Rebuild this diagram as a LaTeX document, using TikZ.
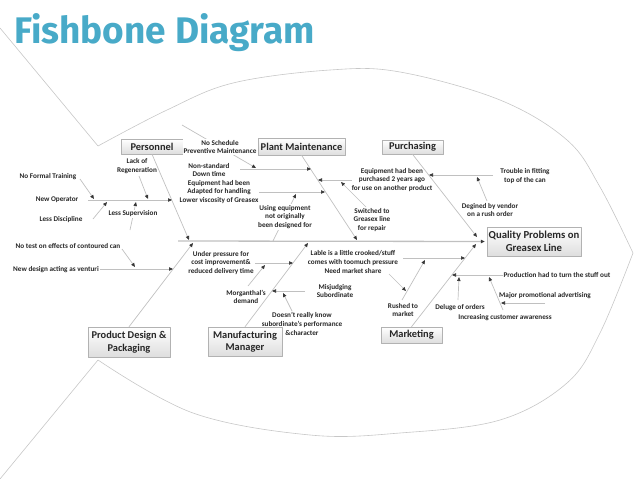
\documentclass[tikz,border=0pt]{standalone}
\usepackage{fontspec}
\setmainfont{Carlito}
\newfontfamily\titlefont{Fira Sans}
\usetikzlibrary{arrows.meta,shadows}

\definecolor{fishblue}{RGB}{72,170,200}
\definecolor{bonegray}{RGB}{192,192,192}
\definecolor{tipgray}{RGB}{55,55,55}

\begin{document}
\begin{tikzpicture}[x=1pt,y=-1pt,line join=round,
 cat/.style={draw=black!30,top color=white,bottom color=black!13,inner sep=0pt,align=center,
  text=black!85,font=\fontsize{10.4}{12.5}\selectfont\bfseries,
  drop shadow={opacity=.18,shadow xshift=1pt,shadow yshift=-1pt}},
 lbl/.style={inner sep=.6pt,align=center,text=black!85,font=\fontsize{7.2}{8.8}\selectfont\bfseries},
 bone/.style={draw=bonegray,line width=.7pt,-{Triangle[length=4pt,width=3.4pt,color=tipgray]}},
 outline/.style={draw=black!22,line width=.6pt}]
\useasboundingbox (0,0) rectangle (638,479);

% title
\node[anchor=base west,inner sep=0pt,text=fishblue,font=\titlefont\bfseries\fontsize{37}{42}\selectfont] (title) at (14,43) {Fishbone Diagram};

% fish outline
\draw[outline] (0,28) -- (98,146);
\draw[outline] plot[smooth,tension=.6] coordinates {(98,146) (167,110) (233,83) (330,70) (400,72) (500,100) (567,140) (600,187) (633,253)};
\draw[outline] plot[smooth,tension=.6] coordinates {(633,253) (600,333) (567,383) (500,420) (400,433) (310,435) (193,413) (98,360)};
\draw[outline] (98,360) -- (0,479);

% head and categories
\node[cat,font=\fontsize{10.7}{12.5}\selectfont\bfseries,minimum width=94pt,minimum height=29pt] (head) at (534,241.5) {Quality Problems on\\Greasex Line};
\node[cat,minimum width=62pt,minimum height=15pt] (pers) at (152,146.5) {Personnel};
\node[cat,minimum width=87pt,minimum height=17pt] (plant) at (301.5,146.5) {Plant Maintenance};
\node[cat,minimum width=61pt,minimum height=14pt] (purch) at (412.5,147) {Purchasing};
\node[cat,minimum width=82pt,minimum height=30pt] (design) at (129,342) {Product Design \&\\Packaging};
\node[cat,minimum width=74pt,minimum height=29pt] (manuf) at (245,341.5) {Manufacturing\\Manager};
\node[cat,minimum width=61pt,minimum height=16pt] (market) at (411.5,335) {Marketing};

% junction points
\foreach \nm/\cx/\cy in {sp0/178/241,jPers/189/240,jPlant/357/240,jPurch/477/237,jDesign/193/243,jManuf/308/243,jMarket/476/244,
 opA/88/200,opB/172/200,trainA/80/179,trainB/94/199,discA/93/219,discB/107/202,regenA/139/176,regenB/148/199,supA/130/230,supB/136/202,
 schedA/182/125,schedB/256/168,downA/240/169,downB/311/169,adaptA/259/192,adaptB/325/192,usingA/273/241,usingB/296/194,
 boughtA/352/180,boughtB/318/180,switchA/366/207,switchB/341/182,fitA/493/175,fitB/429/175,vendorA/487/201,vendorB/477/177,
 ventA/100/269,ventB/173/269,testA/122/249,testB/135/267,
 costA/255/263,costB/293/263,morgA/248/286,morgB/265/265,misA/305/291,misB/272/291,knowA/292/311,knowB/283/293,
 lableA/403/258,lableB/465/258,rushA/402/300,rushB/425/260,shareA/389/274,shareB/406/291,prodA/503/275,prodB/452/275,
 delugeA/458/300,delugeB/459/277,awareA/503/310,awareB/489/277,promoA/545/303,promoB/501/303}
 \coordinate (\nm) at (\cx,\cy);

% spine and main bones
\draw[bone,line width=1.3pt,shorten >=2pt] (sp0) -- (head.west);
\foreach \a/\b in {pers.south/jPers,plant.south/jPlant,purch.south/jPurch,design.north/jDesign,manuf.north/jManuf,market.north/jMarket}
 \draw[bone] (\a) -- (\b);
% small bones
\foreach \s in {op,train,disc,regen,sup,sched,down,adapt,using,bought,switch,fit,vendor,vent,test,cost,morg,mis,know,lable,rush,share,prod,deluge,aware,promo}
 \draw[bone] (\s A) -- (\s B);

% causes
\node[lbl] (train) at (48,177) {No Formal Training};
\node[lbl] (op) at (57,200) {New Operator};
\node[lbl] (disc) at (61,220) {Less Discipline};
\node[lbl] (regen) at (137,166) {Lack of\\Regeneration};
\node[lbl,fill=white] (sup) at (133,214) {Less Supervision};
\node[lbl] (test) at (68,246) {No test on effects of contoured can};
\node[lbl] (vent) at (56,270) {New design acting as venturi};
\node[lbl,fill=white] (sched) at (220,147) {No Schedule\\Preventive Maintenance};
\node[lbl] (down) at (209,170) {Non-standard\\Down time};
\node[lbl] (adapt) at (219,192) {Equipment had been\\Adapted for handling\\Lower viscosity of Greasex};
\node[lbl,fill=white] (using) at (285,217) {Using equipment\\not originally\\been designed for};
\node[lbl] (switch) at (372,220) {Switched to\\Greasex line\\for repair};
\node[lbl] (bought) at (392,180) {Equipment had been\\purchased 2 years ago\\for use on another product};
\node[lbl] (fit) at (525,176) {Trouble in fitting\\top of the can};
\node[lbl] (vendor) at (490,210) {Degined by vendor\\on a rush order};
\node[lbl] (cost) at (221,263) {Under pressure for\\cost improvement\&\\reduced delivery time};
\node[lbl] (morg) at (246,297) {Morganthal's\\demand};
\node[lbl] (mis) at (335,291) {Misjudging\\Subordinate};
\node[lbl] (know) at (302,324) {Doesn't really know\\subordinate's performance\\\&character};
\node[lbl] (lable) at (353,262) {Lable is a little crooked/stuff\\comes with toomuch pressure\\Need market share};
\node[lbl] (rush) at (403,310) {Rushed to\\market};
\node[lbl] (prod) at (557,275) {Production had to turn the stuff out};
\node[lbl] (deluge) at (460,308) {Deluge of orders};
\node[lbl] (promo) at (545,296) {Major promotional advertising};
\node[lbl] (aware) at (505,318) {Increasing customer awareness};
\end{tikzpicture}
\end{document}
